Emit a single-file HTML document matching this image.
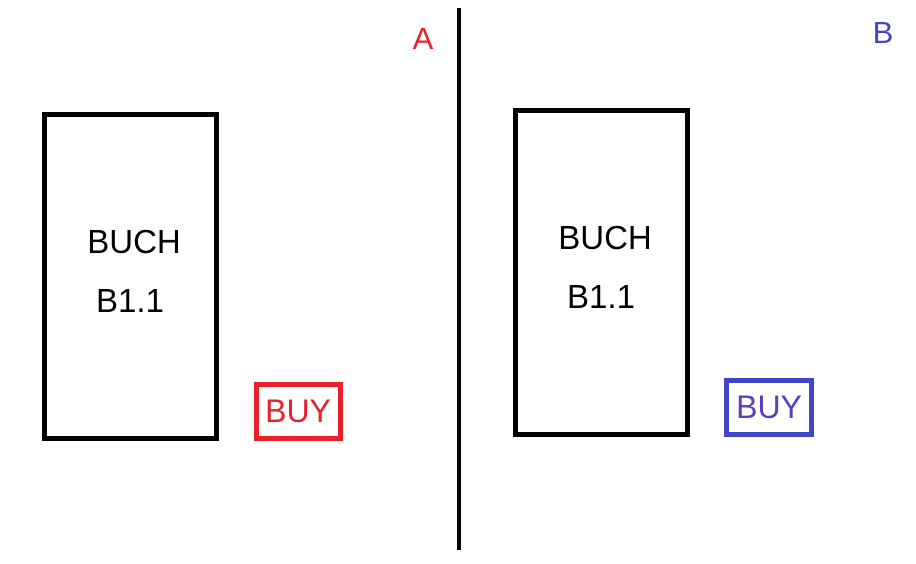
<!DOCTYPE html>
<html><head><meta charset="utf-8"><style>
html,body{margin:0;padding:0;background:#fff;width:916px;height:564px;overflow:hidden}
text{font-family:"Liberation Sans",sans-serif}
</style></head><body>
<svg width="916" height="564" viewBox="0 0 916 564">
<rect x="44.5" y="114.5" width="172" height="324" fill="none" stroke="#000" stroke-width="5"/>
<text x="134" y="253" font-size="33" text-anchor="middle">BUCH</text>
<text x="130" y="312" font-size="33" text-anchor="middle">B1.1</text>
<rect x="256.5" y="384.5" width="84" height="54" fill="none" stroke="#e8202a" stroke-width="5"/>
<text x="298" y="422" font-size="32" fill="#e8202a" text-anchor="middle">BUY</text>
<text x="423" y="49" font-size="31" fill="#e8202a" text-anchor="middle">A</text>
<line x1="459" y1="8" x2="459" y2="550" stroke="#000" stroke-width="4"/>
<rect x="515.5" y="110.5" width="172" height="324" fill="none" stroke="#000" stroke-width="5"/>
<text x="605" y="249" font-size="33" text-anchor="middle">BUCH</text>
<text x="601" y="308" font-size="33" text-anchor="middle">B1.1</text>
<rect x="726.5" y="380.5" width="85" height="54" fill="none" stroke="#4046c8" stroke-width="5"/>
<text x="769" y="418" font-size="32" fill="#5a3ec0" text-anchor="middle">BUY</text>
<text x="883" y="43" font-size="31" fill="#4046c8" text-anchor="middle">B</text>
</svg>
</body></html>
